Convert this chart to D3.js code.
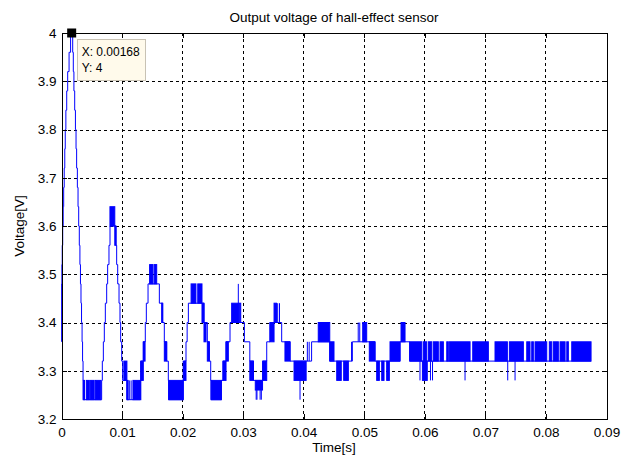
<!DOCTYPE html>
<html>
<head>
<meta charset="utf-8">
<script src="https://cdn.jsdelivr.net/npm/d3@7"></script>
<style>
body { margin: 0; background: #fff; }
text { font-family: "Liberation Sans", Arial, Helvetica, sans-serif; }
</style>
</head>
<body>
<div id="chart"></div>
<script>
const width = 621;
const height = 459;

const margin = {
    "top": 33,
    "left": 61.5,
    "bottom": 40,
    "right": 14.5
};

const title = "Output voltage of hall-effect sensor";
const xLabel = "Time[s]";
const yLabel = "Voltage[V]";

const xTicks = [0, 0.01, 0.02, 0.03, 0.04, 0.05, 0.06, 0.07, 0.08, 0.09];
const xTickLabels = ["0", "0.01", "0.02", "0.03", "0.04", "0.05", "0.06", "0.07", "0.08", "0.09"];
const yTicks = [3.2, 3.3, 3.4, 3.5, 3.6, 3.7, 3.8, 3.9, 4];
const yTickLabels = ["3.2", "3.3", "3.4", "3.5", "3.6", "3.7", "3.8", "3.9", "4"];

// datatip shown on the plot
const tipPoint = [0.00168, 4];
const tipLines = ["X: 0.00168", "Y: 4"];

// [time, voltage] - the level holds until the next point
const trace = [
    [0, 3.36], [0.00002, 3.48], [0.00006, 3.52], [0.00012, 3.56], [0.0002, 3.6], [0.00028, 3.64],
    [0.00036, 3.68], [0.00045, 3.72], [0.00054, 3.76], [0.00062, 3.8], [0.00072, 3.84], [0.00086, 3.88],
    [0.00102, 3.92], [0.00125, 3.96], [0.0015, 4.0],
    [0.00185, 3.96], [0.00195, 3.92], [0.00205, 3.88], [0.00218, 3.84], [0.0023, 3.8], [0.0024, 3.76],
    [0.0025, 3.72], [0.00262, 3.68], [0.00273, 3.64], [0.00284, 3.6], [0.00294, 3.56], [0.00304, 3.52],
    [0.00313, 3.48], [0.00322, 3.44], [0.00331, 3.4], [0.0034, 3.36], [0.00348, 3.32], [0.00356, 3.28],
    [0.0036, 3.24],
    [0.00663, 3.28], [0.00674, 3.32], [0.00691, 3.36], [0.00707, 3.4], [0.00724, 3.44], [0.00746, 3.48],
    [0.00762, 3.52], [0.00784, 3.56], [0.00801, 3.6],
    [0.009, 3.56], [0.00911, 3.52], [0.00928, 3.48], [0.0095, 3.44], [0.00966, 3.4], [0.00977, 3.36],
    [0.00994, 3.32], [0.0101, 3.28], [0.0108, 3.24],
    [0.013, 3.28], [0.01315, 3.32], [0.01351, 3.36], [0.01384, 3.4], [0.01401, 3.44], [0.01429, 3.48],
    [0.01616, 3.44], [0.01671, 3.4], [0.01698, 3.36], [0.01737, 3.32], [0.01764, 3.28], [0.0177, 3.24],
    [0.0201, 3.28], [0.02025, 3.32], [0.02056, 3.36], [0.02075, 3.4], [0.02095, 3.44],
    [0.02353, 3.4], [0.02408, 3.36], [0.02441, 3.32], [0.02464, 3.28], [0.0247, 3.24],
    [0.0264, 3.28], [0.02667, 3.32], [0.02717, 3.36], [0.02783, 3.4],
    [0.0302, 3.36], [0.0311, 3.32], [0.0317, 3.28],
    [0.03323, 3.32], [0.03389, 3.36], [0.03443, 3.4],
    [0.03636, 3.36], [0.03774, 3.32],
    [0.0413, 3.36], [0.0443, 3.32],
    [0.04803, 3.36],
    [0.05177, 3.32],
    [0.0559, 3.36],
    [0.0575, 3.32],
    [0.08745, 3.32]
];

// fast toggling between two levels: [t0, t1, low, high]
const bands = [
    [0.00358, 0.0038, 3.24, 3.28], [0.0041, 0.0046, 3.24, 3.28], [0.0048, 0.0054, 3.24, 3.28], [0.0056, 0.0065, 3.24, 3.28],
    [0.008, 0.0088, 3.6, 3.64], [0.0088, 0.009, 3.56, 3.6],
    [0.0103, 0.0108, 3.28, 3.32], [0.0108, 0.011, 3.24, 3.28], [0.0118, 0.0131, 3.24, 3.28],
    [0.01307, 0.01351, 3.28, 3.32], [0.01351, 0.0138, 3.32, 3.36], [0.01455, 0.0151, 3.48, 3.52], [0.0153, 0.01572, 3.48, 3.52],
    [0.01654, 0.01671, 3.4, 3.44], [0.01698, 0.01737, 3.32, 3.36],
    [0.0177, 0.0201, 3.24, 3.28],
    [0.0201, 0.02056, 3.28, 3.32], [0.0214, 0.0222, 3.44, 3.48], [0.0225, 0.0232, 3.44, 3.48], [0.0232, 0.02353, 3.4, 3.44],
    [0.02353, 0.02387, 3.36, 3.4], [0.02408, 0.02441, 3.32, 3.36],
    [0.0247, 0.0264, 3.24, 3.28],
    [0.02667, 0.02717, 3.28, 3.32], [0.02717, 0.02755, 3.32, 3.36], [0.0281, 0.0292, 3.4, 3.44], [0.02935, 0.0296, 3.4, 3.44],
    [0.0311, 0.0317, 3.28, 3.32],
    [0.032, 0.0332, 3.26, 3.28],
    [0.03323, 0.03389, 3.28, 3.32], [0.03443, 0.0351, 3.36, 3.4], [0.0351, 0.0355, 3.4, 3.44], [0.0369, 0.03774, 3.32, 3.36],
    [0.0384, 0.0404, 3.28, 3.32],
    [0.0424, 0.0443, 3.36, 3.4], [0.0443, 0.045, 3.32, 3.36], [0.04545, 0.0462, 3.28, 3.32], [0.0466, 0.04737, 3.28, 3.32],
    [0.04974, 0.0504, 3.36, 3.4], [0.05083, 0.05177, 3.32, 3.36], [0.05205, 0.05249, 3.28, 3.32], [0.05288, 0.05326, 3.28, 3.32],
    [0.0537, 0.05414, 3.28, 3.32], [0.05425, 0.0559, 3.32, 3.36], [0.05607, 0.05673, 3.36, 3.4], [0.0596, 0.0604, 3.28, 3.32],
    [0.0575, 0.05949, 3.32, 3.36], [0.05975, 0.06031, 3.32, 3.36], [0.06058, 0.06114, 3.32, 3.36], [0.0614, 0.06223, 3.32, 3.36],
    [0.06251, 0.06306, 3.32, 3.36], [0.06362, 0.06388, 3.32, 3.36], [0.06405, 0.06747, 3.32, 3.36], [0.06791, 0.07049, 3.32, 3.36],
    [0.07159, 0.07363, 3.32, 3.36], [0.07396, 0.07627, 3.32, 3.36], [0.07683, 0.07737, 3.32, 3.36], [0.07765, 0.07792, 3.32, 3.36],
    [0.0782, 0.08013, 3.32, 3.36], [0.08056, 0.08096, 3.32, 3.36], [0.08122, 0.08205, 3.32, 3.36], [0.08233, 0.08316, 3.32, 3.36],
    [0.08344, 0.0837, 3.32, 3.36], [0.08426, 0.08745, 3.32, 3.36]
];

// single-sample spikes: [t, from, to]
const spikes = [
    [0.0112, 3.24, 3.28], [0.0115, 3.24, 3.28],
    [0.0292, 3.4, 3.48],
    [0.03215, 3.26, 3.24], [0.03228, 3.26, 3.24], [0.0328, 3.26, 3.24], [0.033, 3.26, 3.24],
    [0.0357, 3.4, 3.44], [0.036, 3.4, 3.44],
    [0.03939, 3.28, 3.24], [0.0406, 3.32, 3.36], [0.0409, 3.32, 3.36],
    [0.0479, 3.32, 3.36], [0.049, 3.36, 3.4], [0.04925, 3.36, 3.4],
    [0.0592, 3.32, 3.28], [0.06093, 3.32, 3.28], [0.06127, 3.32, 3.28], [0.06664, 3.32, 3.28],
    [0.07369, 3.32, 3.28], [0.0749, 3.32, 3.28]
];

const w = width - margin.left - margin.right;
const h = height - margin.top - margin.bottom;

const xScale = d3.scaleLinear().domain([0, 0.09]).range([0, w]);
const yScale = d3.scaleLinear().domain([3.2, 4]).range([h, 0]);

const svg = d3.select("#chart").append("svg").attr("width", width).attr("height", height);
svg.append("rect").attr("width", width).attr("height", height).attr("fill", "#fff");

const g = svg.append("g").attr("transform", `translate(${margin.left},${margin.top})`);

// grid
g.append("g")
    .selectAll("line")
    .data(xTicks.slice(1, -1))
    .join("line")
    .attr("x1", d => xScale(d)).attr("x2", d => xScale(d))
    .attr("y1", 0).attr("y2", h)
    .attr("stroke", "#000")
    .attr("stroke-dasharray", "3,3")
    .attr("shape-rendering", "crispEdges");

g.append("g")
    .selectAll("line")
    .data(yTicks.slice(1, -1))
    .join("line")
    .attr("x1", 0).attr("x2", w)
    .attr("y1", d => Math.round(yScale(d)) + 0.5).attr("y2", d => Math.round(yScale(d)) + 0.5)
    .attr("stroke", "#000")
    .attr("stroke-dasharray", "3,3")
    .attr("shape-rendering", "crispEdges");

const plot = g.append("g");

const lineGenerator = d3.line()
    .x(d => xScale(d[0]))
    .y(d => yScale(d[1]))
    .curve(d3.curveStepAfter);

plot.append("path")
    .datum(trace)
    .attr("fill", "none")
    .attr("stroke", "#0000ff")
    .attr("stroke-width", 1)
    .attr("d", lineGenerator);

plot.selectAll("rect.band")
    .data(bands)
    .join("rect")
    .attr("class", "band")
    .attr("x", d => xScale(d[0]))
    .attr("width", d => xScale(d[1]) - xScale(d[0]))
    .attr("y", d => yScale(d[3]))
    .attr("height", d => yScale(d[2]) - yScale(d[3]))
    .attr("fill", "#0000ff")
    .attr("stroke", "#0000ff")
    .attr("stroke-width", 1);

plot.selectAll("line.spike")
    .data(spikes)
    .join("line")
    .attr("class", "spike")
    .attr("x1", d => xScale(d[0])).attr("x2", d => xScale(d[0]))
    .attr("y1", d => yScale(d[1])).attr("y2", d => yScale(d[2]))
    .attr("stroke", "#0000ff")
    .attr("stroke-width", 1);

// axes (ticks inside, box on)
const xAxis = d3.axisBottom(xScale).tickValues(xTicks).tickSizeInner(-5).tickSizeOuter(0).tickPadding(8)
    .tickFormat((d, i) => xTickLabels[i]);
const yAxis = d3.axisLeft(yScale).tickValues(yTicks).tickSizeInner(-5).tickSizeOuter(0).tickPadding(5)
    .tickFormat((d, i) => yTickLabels[i]);

g.append("g")
    .attr("class", "x-axis")
    .attr("transform", `translate(0,${h})`)
    .call(xAxis);

g.append("g")
    .attr("class", "y-axis")
    .call(yAxis);

g.append("g")
    .attr("class", "x-axis")
    .call(d3.axisTop(xScale).tickValues(xTicks).tickSizeInner(-5).tickSizeOuter(0).tickFormat(""));

g.append("g")
    .attr("class", "y-axis")
    .attr("transform", `translate(${w},0)`)
    .call(d3.axisRight(yScale).tickValues(yTicks).tickSizeInner(-5).tickSizeOuter(0).tickFormat(""));

g.selectAll(".x-axis, .y-axis").selectAll("path, line")
    .attr("stroke", "#000")
    .attr("shape-rendering", "crispEdges");
g.selectAll(".x-axis, .y-axis").selectAll("text")
    .attr("fill", "#000")
    .style("font-size", "13.5px");

// datatip
const tx = xScale(tipPoint[0]);
const ty = yScale(tipPoint[1]);

g.append("rect")
    .attr("x", tx + 6)
    .attr("y", ty + 6.5)
    .attr("width", 68)
    .attr("height", 41)
    .attr("fill", "#fffaeb")
    .attr("stroke", "#c8c2b4")
    .attr("shape-rendering", "crispEdges");

g.selectAll("text.tip")
    .data(tipLines)
    .join("text")
    .attr("class", "tip")
    .attr("x", tx + 10)
    .attr("y", (d, i) => ty + 23 + i * 16)
    .attr("font-size", 12)
    .attr("fill", "#000")
    .text(d => d);

g.append("rect")
    .attr("x", tx - 4.5)
    .attr("y", ty - 4.5)
    .attr("width", 9)
    .attr("height", 9)
    .attr("fill", "#000");

// titles
svg.append("text")
    .attr("x", margin.left + w / 2)
    .attr("y", 22)
    .attr("text-anchor", "middle")
    .attr("font-size", 13.5)
    .attr("fill", "#000")
    .text(title);

svg.append("text")
    .attr("x", margin.left + w / 2)
    .attr("y", 452)
    .attr("text-anchor", "middle")
    .attr("font-size", 13.5)
    .attr("fill", "#000")
    .text(xLabel);

svg.append("text")
    .attr("transform", `translate(24,${margin.top + h / 2}) rotate(-90)`)
    .attr("text-anchor", "middle")
    .attr("font-size", 13.5)
    .attr("fill", "#000")
    .text(yLabel);
</script>
</body>
</html>
